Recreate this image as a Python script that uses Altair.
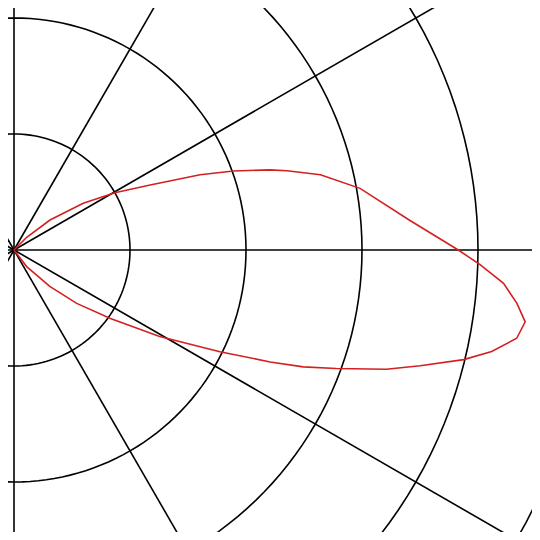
import altair as alt
import pandas as pd

# Pattern (polar): angle in degrees, radius in grid units
theta_deg = [45, 45, 39.8, 34.0, 29.6, 25.5, 22.0, 19.8, 17.4, 16.2, 13.8, 10.1, 4.3, 0.0,
             -1.8, -3.9, -6.05, -8.0, -9.96, -12.0, -13.7, -15.9, -17.75, -20.2, -22.0,
             -23.6, -26.3, -30.7, -35.4, -40.4, -45.5, -52.7, -52.7]
radius = [0.0, 0.155, 0.404, 0.72, 1.0, 1.30, 1.73, 2.01, 2.31, 2.45, 2.72, 3.03, 3.42, 3.83,
          4.02, 4.23, 4.36, 4.45, 4.40, 4.21, 3.99, 3.64, 3.37, 2.96, 2.69, 2.41, 1.98,
          1.46, 1.02, 0.71, 0.44, 0.18, 0.0]

grid_radii = [1, 2, 3, 4, 5]
spoke_angles = [0, 30, 60, 90, 120, 150, 180, 210, 240, 270, 300, 330]

W, H = 524, 524
unit = 116.0
cx, cy = 6.0, 242.0
xdom = [-cx / unit, (W - cx) / unit]
ydom = [-(H - cy) / unit, cy / unit]

xs = alt.Scale(domain=xdom, nice=False, zero=False)
ys = alt.Scale(domain=ydom, nice=False, zero=False)

circ_angles = list(range(0, 361, 2))
circ = pd.DataFrame([(r, a, i) for r in grid_radii for i, a in enumerate(circ_angles)],
                    columns=["r", "a", "i"])
circles = alt.Chart(circ).transform_calculate(
    x="datum.r*cos(datum.a*PI/180)", y="datum.r*sin(datum.a*PI/180)"
).mark_line(color="black", strokeWidth=1.6, clip=True).encode(
    x=alt.X("x:Q", scale=xs, axis=None),
    y=alt.Y("y:Q", scale=ys, axis=None),
    detail="r:N",
    order="i:Q",
)

sp = pd.DataFrame({"a": spoke_angles})
spokes = alt.Chart(sp).transform_calculate(
    x0="0", y0="0", x1="8*cos(datum.a*PI/180)", y1="8*sin(datum.a*PI/180)"
).mark_rule(color="black", strokeWidth=1.6, clip=True).encode(
    x=alt.X("x0:Q", scale=xs, axis=None),
    y=alt.Y("y0:Q", scale=ys, axis=None),
    x2="x1:Q",
    y2="y1:Q",
)

pat = pd.DataFrame({"t": theta_deg, "r": radius, "i": range(len(radius))})
curve = alt.Chart(pat).transform_calculate(
    x="datum.r*cos(datum.t*PI/180)", y="datum.r*sin(datum.t*PI/180)"
).mark_line(color="#d42020", strokeWidth=1.6, clip=True).encode(
    x=alt.X("x:Q", scale=xs, axis=None),
    y=alt.Y("y:Q", scale=ys, axis=None),
    order="i:Q",
)

chart = alt.layer(circles, spokes, curve).properties(
    width=W, height=H, padding=0
).configure_view(stroke=None)

chart.save("out.html", embed_options={"renderer": "svg", "actions": False})
